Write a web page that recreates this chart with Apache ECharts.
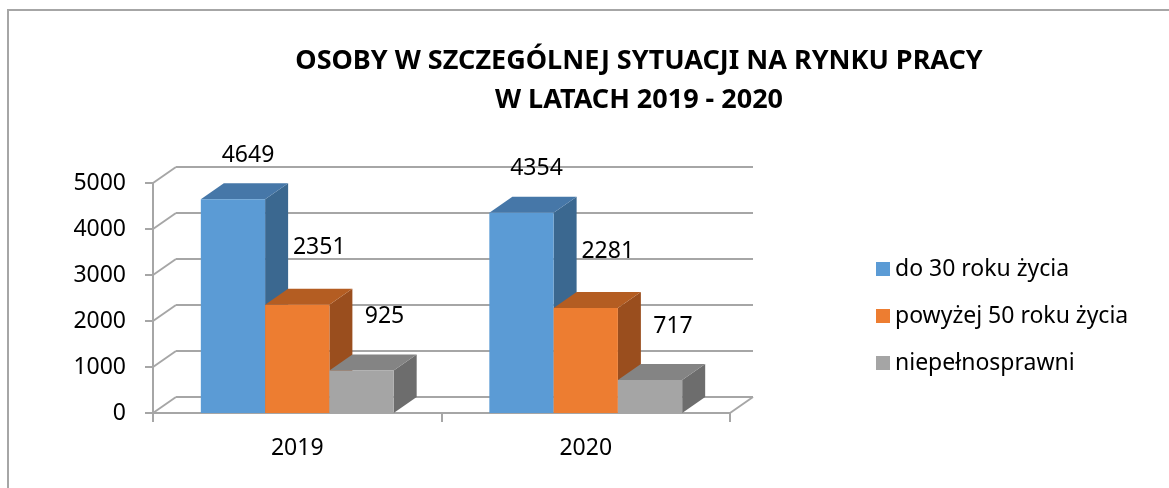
<!DOCTYPE html>
<html><head><meta charset="utf-8">
<script src="https://cdn.jsdelivr.net/npm/echarts@6/dist/echarts.min.js"></script>
<style>html,body{margin:0;padding:0;background:#fff}#c{width:1169px;height:488px}</style>
</head><body><div id="c"></div>
<script>
const categories = ['2019', '2020'];
const seriesNames = ['do 30 roku życia', 'powyżej 50 roku życia', 'niepełnosprawni'];
const valuesUnder30 = [4649, 4354];
const valuesOver50 = [2351, 2281];
const valuesDisabled = [925, 717];
const yTicks = [0, 1000, 2000, 3000, 4000, 5000];
const titleText = 'OSOBY W SZCZEGÓLNEJ SYTUACJI NA RYNKU PRACY\nW LATACH 2019 - 2020';

const FONT = "'Noto Sans', 'DejaVu Sans', sans-serif";
const DX = 23, DY = 16;
const GRID = {left: 153, top: 183, width: 577, height: 230};
const gridColor = '#a6a6a6';
const palette = [
  {front: '#5b9bd5', top: '#4677a8', side: '#3b6890'},
  {front: '#ed7d31', top: '#b45d22', side: '#9a4e1e'},
  {front: '#a5a5a5', top: '#848484', side: '#6d6d6d'}
];
const labelOff = [[15, -44], [22, -57], [23, -54]];
const seriesValues = [valuesUnder30, valuesOver50, valuesDisabled];

function barRender(si) {
  return function (params, api) {
    const ci = api.value(0), v = api.value(1);
    const c = api.coord([ci, v]);
    const base = api.coord([ci, 0]);
    const band = api.size([1, 0])[0];
    const bw = band * 0.2228;
    const x0 = c[0] + (si - 1.5) * bw, x1 = x0 + bw;
    const yt = c[1], yb = base[1];
    const col = palette[si];
    return {
      type: 'group',
      children: [
        {type: 'polygon', shape: {points: [[x1, yt], [x1 + DX, yt - DY], [x1 + DX, yb - DY], [x1, yb]]}, style: {fill: col.side}},
        {type: 'polygon', shape: {points: [[x0, yt], [x0 + DX, yt - DY], [x1 + DX, yt - DY], [x1, yt]]}, style: {fill: col.top}},
        {type: 'rect', shape: {x: x0, y: yt, width: bw, height: yb - yt}, style: {fill: col.front}},
        {type: 'text', x: (x0 + x1) / 2 + labelOff[si][0], y: yt + labelOff[si][1],
          style: {text: String(v), fill: '#000', font: '23px ' + FONT, align: 'center', verticalAlign: 'middle'}}
      ]
    };
  };
}

function frameRender(params, api) {
  const cs = params.coordSys;
  const v = api.value(0);
  const y = api.coord([0, v])[1];
  const children = [
    {type: 'line', shape: {x1: cs.x, y1: y, x2: cs.x + DX, y2: y - DY}, style: {stroke: gridColor, lineWidth: 2}}
  ];
  if (v === 0) {
    children.push({type: 'line', shape: {x1: cs.x + cs.width, y1: y, x2: cs.x + cs.width + DX, y2: y - DY}, style: {stroke: gridColor, lineWidth: 2}});
  }
  return {type: 'group', children: children};
}

const chart = echarts.init(document.getElementById('c'), null, {renderer: 'canvas'});
const series = [
  {type: 'custom', name: 'frame', xAxisIndex: 0, yAxisIndex: 0, data: yTicks.map(t => [t]),
    renderItem: frameRender, silent: true, z: 1, encode: {y: 0}}
];
seriesValues.forEach((vals, si) => {
  series.push({
    type: 'custom', name: seriesNames[si], xAxisIndex: 0, yAxisIndex: 0,
    itemStyle: {color: palette[si].front},
    data: vals.map((v, i) => [i, v]),
    encode: {x: 0, y: 1},
    renderItem: barRender(si), z: 3
  });
});

chart.setOption({
  animation: false,
  backgroundColor: '#fff',
  graphic: [
    {type: 'rect', shape: {x: 8, y: 10, width: 1300, height: 600}, style: {fill: 'none', stroke: '#a6a6a6', lineWidth: 2}, z: 0}
  ],
  title: {
    text: titleText, left: 639, top: 42, textAlign: 'center', padding: 0,
    textStyle: {fontFamily: FONT, fontWeight: 'bold', fontSize: 27, lineHeight: 39, color: '#000'}
  },
  legend: {
    orient: 'vertical', left: 876, top: 257, itemWidth: 14, itemHeight: 14, itemGap: 23,
    padding: 0, icon: 'rect',
    data: seriesNames,
    textStyle: {fontFamily: FONT, fontSize: 23, color: '#000', lineHeight: 24}
  },
  grid: [
    {left: GRID.left, top: GRID.top, width: GRID.width, height: GRID.height},
    {left: GRID.left + DX, top: GRID.top - DY, width: GRID.width, height: GRID.height}
  ],
  xAxis: [
    {type: 'category', gridIndex: 0, data: categories,
      axisLine: {lineStyle: {color: gridColor, width: 2}},
      axisTick: {show: true, length: 9, lineStyle: {color: gridColor, width: 2}},
      axisLabel: {margin: 24, fontFamily: FONT, fontSize: 23, color: '#000'}},
    {type: 'category', gridIndex: 1, data: categories, show: false}
  ],
  yAxis: [
    {type: 'value', gridIndex: 0, min: 0, max: 5000, interval: 1000,
      axisLine: {show: true, lineStyle: {color: gridColor, width: 2}},
      axisTick: {show: true, length: 8, lineStyle: {color: gridColor, width: 2}},
      splitLine: {show: false},
      axisLabel: {margin: 27, fontFamily: FONT, fontSize: 23, color: '#000', formatter: v => String(v)}},
    {type: 'value', gridIndex: 1, min: 0, max: 5000, interval: 1000,
      axisLine: {show: false}, axisTick: {show: false}, axisLabel: {show: false},
      splitLine: {show: true, lineStyle: {color: gridColor, width: 2}}}
  ],
  series: series
});
</script></body></html>
